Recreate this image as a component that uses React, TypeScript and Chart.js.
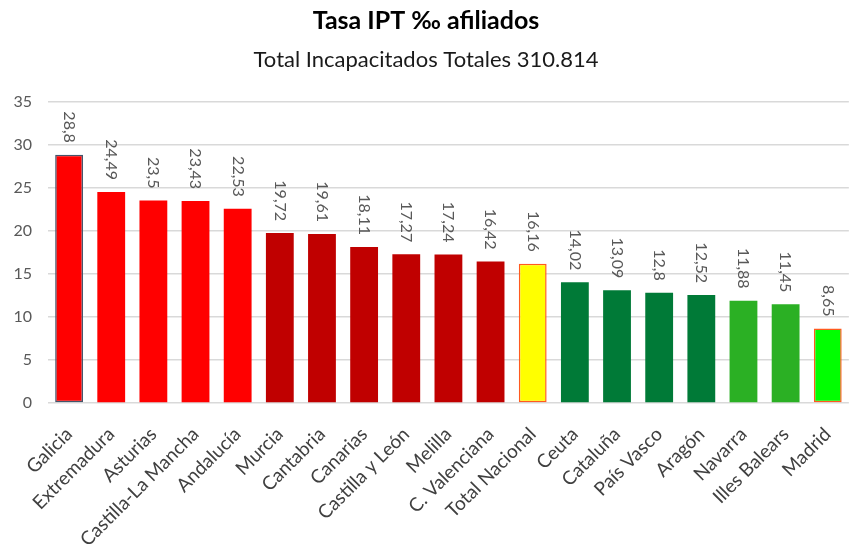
import React, { useEffect, useRef } from "react";
import { Chart, registerables } from "chart.js";

Chart.register(...registerables);

const categories = [
  "Galicia", "Extremadura", "Asturias", "Castilla-La Mancha", "Andalucía", "Murcia",
  "Cantabria", "Canarias", "Castilla y León", "Melilla", "C. Valenciana", "Total Nacional",
  "Ceuta", "Cataluña", "País Vasco", "Aragón", "Navarra", "Illes Balears", "Madrid",
];
const values = [28.8, 24.49, 23.5, 23.43, 22.53, 19.72, 19.61, 18.11, 17.27, 17.24, 16.42, 16.16, 14.02, 13.09, 12.8, 12.52, 11.88, 11.45, 8.65];
const valueLabels = ["28,8", "24,49", "23,5", "23,43", "22,53", "19,72", "19,61", "18,11", "17,27", "17,24", "16,42", "16,16", "14,02", "13,09", "12,8", "12,52", "11,88", "11,45", "8,65"];
const fillColors = [
  "#FF0000", "#FF0000", "#FF0000", "#FF0000", "#FF0000",
  "#C00000", "#C00000", "#C00000", "#C00000", "#C00000", "#C00000",
  "#FFFF00",
  "#007A37", "#007A37", "#007A37", "#007A37",
  "#2BB024", "#2BB024",
  "#00FF00",
];
const borderColors = [
  "#44546A", "#FF0000", "#FF0000", "#FF0000", "#FF0000",
  "#C00000", "#C00000", "#C00000", "#C00000", "#C00000", "#C00000",
  "#FF5A1F",
  "#007A37", "#007A37", "#007A37", "#007A37",
  "#2BB024", "#2BB024",
  "#FF5A1F",
];
const borderWidths = [1.5, 0, 0, 0, 0, 0, 0, 0, 0, 0, 0, 1.5, 0, 0, 0, 0, 0, 0, 1.5];

const FONT = "Lato, 'Open Sans', sans-serif";

const labelPlugin = {
  id: "rotLabels",
  afterDatasetsDraw(chart: any) {
    const ctx = chart.ctx;
    const meta = chart.getDatasetMeta(0);
    ctx.save();
    ctx.font = `16px ${FONT}`;
    ctx.fillStyle = "#595959";
    ctx.textBaseline = "middle";
    ctx.textAlign = "right";
    meta.data.forEach((bar: any, i: number) => {
      ctx.save();
      ctx.translate(bar.x, bar.y - 12);
      ctx.rotate(Math.PI / 2);
      ctx.fillText(valueLabels[i], 0, 0);
      ctx.restore();
    });
    ctx.restore();
  },
};

export default function App() {
  const ref = useRef<HTMLCanvasElement>(null);
  useEffect(() => {
    const chart = new Chart(ref.current!, {
      type: "bar",
      data: {
        labels: categories,
        datasets: [
          {
            data: values,
            backgroundColor: fillColors,
            borderColor: borderColors,
            borderWidth: borderWidths,
            borderSkipped: false,
            categoryPercentage: 1,
            barPercentage: 0.66,
          },
        ],
      },
      options: {
        animation: false,
        responsive: false,
        layout: { padding: { left: 0, right: 4, top: 6, bottom: 0 } },
        plugins: {
          legend: { display: false },
          tooltip: { enabled: false },
          title: {
            display: true,
            text: "Tasa IPT ‰ afiliados",
            color: "#000",
            font: { family: FONT, size: 25, weight: "bold" },
            padding: { top: 0, bottom: 11 },
          },
          subtitle: {
            display: true,
            text: "Total Incapacitados Totales 310.814",
            color: "#1a1a1a",
            font: { family: FONT, size: 22 },
            padding: { top: 0, bottom: 28 },
          },
        },
        scales: {
          x: {
            grid: { display: false },
            border: { display: false },
            ticks: {
              color: "#404040",
              font: { family: FONT, size: 19 },
              minRotation: 45,
              maxRotation: 45,
              autoSkip: false,
              padding: 12,
            },
            afterFit(scale: any) {
              scale.height = 149;
            },
          },
          y: {
            min: 0,
            max: 35,
            ticks: {
              stepSize: 5,
              color: "#595959",
              font: { family: FONT, size: 16 },
              padding: 16,
            },
            grid: { color: "#D9D9D9", lineWidth: 1.5, drawTicks: false },
            border: { display: false },
            afterFit(scale: any) {
              scale.width = 48;
            },
          },
        },
      },
      plugins: [labelPlugin],
    });
    return () => chart.destroy();
  }, []);
  return (
    <div style={{ position: "fixed", left: 0, top: 0, width: 856, height: 552, background: "#fff" }}>
      <canvas ref={ref} width={856} height={552} />
    </div>
  );
}
